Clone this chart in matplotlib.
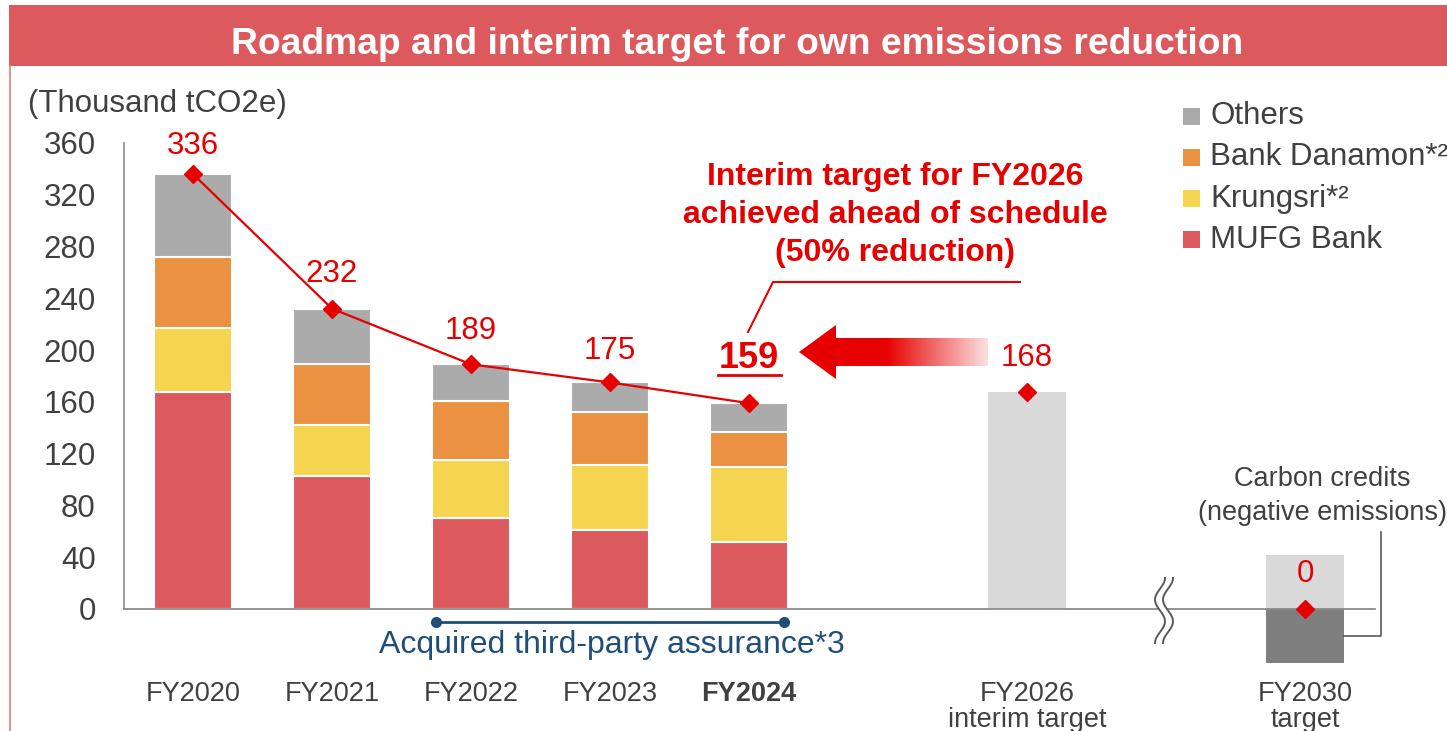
import numpy as np
import matplotlib
matplotlib.use('Agg')
import matplotlib.pyplot as plt
from matplotlib.patches import Rectangle, Polygon

plt.rcParams['font.family'] = ['Liberation Sans', 'DejaVu Sans']

# ---------------- data ----------------
categories = ['FY2020', 'FY2021', 'FY2022', 'FY2023', 'FY2024']
mufg = [168, 103, 70, 61, 52]
krungsri = [49, 39, 45, 50, 58]
danamon = [55, 47, 46, 41, 27]
others = [64, 43, 28, 23, 22]
totals = [336, 232, 189, 175, 159]
target_labels = ['FY2026\ninterim target', 'FY2030\ntarget']
target_2026 = 168
target_2030 = 0
residual_2030 = 42
carbon_credits_2030 = -42
yticks = [0, 40, 80, 120, 160, 200, 240, 280, 320, 360]
series_names = ['MUFG Bank', 'Krungsri*²', 'Bank Danamon*²', 'Others']
series_values = [mufg, krungsri, danamon, others]

# ---------------- style ----------------
series_colors = ['#dc5a5e', '#f5d54f', '#eb9142', '#ababab']
RED = '#e60000'
TXT = '#404040'
AXC = '#8c8c8c'
W, H = 1447, 731

x_hist = np.arange(len(categories))
x_2026, x_2030 = 6, 8
bw = 0.56

fig = plt.figure(figsize=(W / 100, H / 100), dpi=100)
ax = fig.add_axes([123.5 / W, (H - 673.7) / H, 1251 / W, 530.7 / H])
ax.set_xlim(-0.5, 8.5)
ax.set_ylim(-50, 360)
for s in ax.spines.values():
    s.set_visible(False)

# pixel -> data helpers for decorative annotations
def px2x(px):
    return (px - 193) / 139.0

def px2y(py):
    return (609 - py) / 1.2944

# stacked bars
bottom = np.zeros(len(categories))
for vals, col in zip(series_values, series_colors):
    ax.bar(x_hist, vals, bw, bottom=bottom, color=col, edgecolor='white',
           linewidth=1.5, zorder=3)
    bottom += np.array(vals)

# target bars
ax.bar(x_2026, target_2026, bw, color='#d9d9d9', zorder=3)
ax.bar(x_2030, residual_2030, bw, color='#d9d9d9', zorder=3)
ax.bar(x_2030, carbon_credits_2030, bw, color='#7f7f7f', zorder=3)

# axes lines
ax.plot([-0.5, -0.5], [0, 360], color=AXC, lw=1.2, clip_on=False, zorder=2)
ax.plot([-0.5, 8.5], [0, 0], color=AXC, lw=1.3, clip_on=False, zorder=4)

# break symbol
s = np.linspace(0, 1, 100)
py = 578 + 65 * s
pxa = 1160 + 5 * np.cos(3 * np.pi * s)
pxb = pxa + 8
ax.fill_betweenx(px2y(py), px2x(pxa), px2x(pxb), color='white', zorder=4.5, lw=0)
ax.plot(px2x(pxa), px2y(py), color='#595959', lw=1.4, zorder=5, clip_on=False)
ax.plot(px2x(pxb), px2y(py), color='#595959', lw=1.4, zorder=5, clip_on=False)

# totals line
ax.plot(x_hist, totals, color=RED, lw=1.6, marker='D', ms=9, zorder=6)
ax.plot([x_2026], [target_2026], color=RED, marker='D', ms=9, ls='none', zorder=6)
ax.plot([x_2030], [target_2030], color=RED, marker='D', ms=9, ls='none', zorder=6,
        clip_on=False)

label_offsets = [20.5, 25, 24, 23]
for xi, t, off in zip(x_hist[:-1], totals[:-1], label_offsets):
    ax.annotate(str(t), (xi, t), xytext=(0, off), textcoords='offset points',
                ha='center', va='center', color=RED, fontsize=22.5, zorder=7)
ax.annotate(str(target_2026), (x_2026, target_2026), xytext=(0, 24),
            textcoords='offset points', ha='center', va='center', color=RED,
            fontsize=22.5, zorder=7)
ax.annotate(str(target_2030), (x_2030, target_2030), xytext=(0, 25),
            textcoords='offset points', ha='center', va='center', color=RED,
            fontsize=22.5, zorder=7)
# highlighted FY2024 value
ax.text(x_hist[-1], px2y(359), str(totals[-1]), ha='center', va='center',
        color=RED, fontsize=26, fontweight='bold', zorder=7)
ax.plot([px2x(718), px2x(781)], [px2y(375.5)] * 2, color=RED, lw=2, zorder=7)

# big gradient arrow
pts = [(799, 352), (836, 325), (836, 338), (988, 338), (988, 366), (836, 366), (836, 379)]
poly = Polygon([(px2x(a), px2y(b)) for a, b in pts], closed=True,
               facecolor='none', edgecolor='none', zorder=6)
ax.add_patch(poly)
xs = np.linspace(799, 988, 300)
alpha = np.where(xs < 887, 1.0, 1.0 - 0.88 * (xs - 887) / (988 - 887))
img = np.zeros((1, len(xs), 4))
img[..., 0] = 0.902
img[..., 3] = alpha
im = ax.imshow(img, extent=[px2x(799), px2x(988), px2y(380), px2y(324)],
               aspect='auto', zorder=6, interpolation='bilinear')
im.set_clip_path(poly)
ax.set_xlim(-0.5, 8.5)
ax.set_ylim(-50, 360)

# annotation text
ann_lines = ['Interim target for FY2026', 'achieved ahead of schedule', '(50% reduction)']
for line, yy in zip(ann_lines, [177, 215, 253]):
    ax.text(px2x(895), px2y(yy), line, ha='center', va='center', color=RED,
            fontsize=23, fontweight='bold', zorder=7)
ax.plot([px2x(748), px2x(773), px2x(1020)], [px2y(332), px2y(282), px2y(282)],
        color=RED, lw=1.5, zorder=7)

# third-party assurance
ax.plot([1.75, 4.25], [px2y(622)] * 2, color='#1f4e79', lw=2, marker='o', ms=7,
        clip_on=False, zorder=5)
ax.text(px2x(612), px2y(645), 'Acquired third-party assurance*3', ha='center',
        va='center', color='#1f4e79', fontsize=23, zorder=7)

# carbon credits callout
ax.text(px2x(1322), px2y(479), 'Carbon credits', ha='center', va='center',
        color=TXT, fontsize=19.5, clip_on=False)
ax.text(px2x(1322), px2y(513), '(negative emissions)', ha='center', va='center',
        color=TXT, fontsize=19.5, clip_on=False)
ax.plot([x_2030 + bw / 2, px2x(1381), px2x(1381)], [px2y(636), px2y(636), px2y(532)],
        color='#595959', lw=1.2, clip_on=False, zorder=5)

# ticks
ax.set_yticks(yticks)
ax.tick_params(axis='y', length=0, pad=20, labelsize=22.5, labelcolor=TXT)
ax.set_xticks(list(x_hist) + [x_2026, x_2030])
ax.set_xticklabels(categories + target_labels)
ax.tick_params(axis='x', length=0, pad=5, labelsize=19.5, labelcolor=TXT)
for i, lab in enumerate(ax.get_xticklabels()):
    lab.set_linespacing(1.0)
    if i == 4:
        lab.set_fontweight('bold')

# ---------------- overlay in pixel coords ----------------
ov = fig.add_axes([0, 0, 1, 1])
ov.set_xlim(0, W)
ov.set_ylim(H, 0)
ov.axis('off')
ov.add_patch(Rectangle((9, 5), W, 61, facecolor='#dc5a5d', edgecolor='none'))
ov.text(737, 54, 'Roadmap and interim target for own emissions reduction',
        ha='center', va='baseline', color='white', fontsize=26.8, fontweight='bold')
ov.plot([10, 10], [66, H], color='#e8787b', lw=1.2)
ov.text(28, 112, '(Thousand tCO2e)', ha='left', va='baseline', color=TXT, fontsize=22.5)

# legend (top to bottom: reversed stacking order)
for k, (name, col) in enumerate(zip(series_names[::-1], series_colors[::-1])):
    yc = 116 + k * 41.3
    ov.add_patch(Rectangle((1183, yc - 8.5), 17, 17, facecolor=col, edgecolor='none'))
    ov.text(1210, yc, name, ha='left', va='center', color=TXT, fontsize=22.5)

fig.savefig('out.png', dpi=100)
